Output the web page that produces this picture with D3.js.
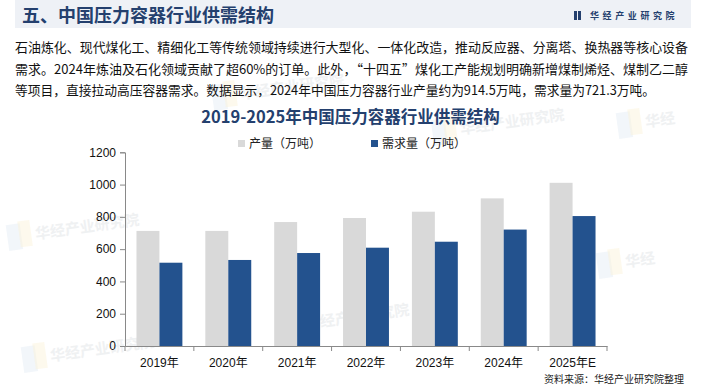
<!DOCTYPE html>
<html>
<head>
<meta charset="utf-8">
<script src="https://cdn.jsdelivr.net/npm/d3@7"></script>
<style>
  body { margin: 0; background: #fff; }
  svg { display: block; }
</style>
</head>
<body>
<svg id="chart" width="701" height="389"></svg>
<script>
// 数据
var years = ['2019年', '2020年', '2021年', '2022年', '2023年', '2024年', '2025年E']
var output = [713, 713, 768, 793, 832, 914.5, 1011]      // 产量（万吨）
var demand = [516, 533, 576, 609, 646, 721.3, 805]       // 需求量（万吨）
var seriesNames = ['产量（万吨）', '需求量（万吨）']
var seriesColors = ['#d9d9d9', '#23528e']
var yTicks = [0, 200, 400, 600, 800, 1000, 1200]

var headTitle = '五、中国压力容器行业供需结构'
var chartTitle = '2019-2025年中国压力容器行业供需结构'
var paraLines = [
  '石油炼化、现代煤化工、精细化工等传统领域持续进行大型化、一体化改造，推动反应器、分离塔、换热器等核心设备',
  '需求。2024年炼油及石化领域贡献了超60%的订单。此外，“十四五”煤化工产能规划明确新增煤制烯烃、煤制乙二醇',
  '等项目，直接拉动高压容器需求。数据显示，2024年中国压力容器行业产量约为914.5万吨，需求量为721.3万吨。'
]
var source = '资料来源：华经产业研究院整理'

var cjk = '"Noto Sans CJK SC", "Noto Sans", sans-serif'
var arial = '"Liberation Sans", "Noto Sans CJK SC", sans-serif'

var svg = d3.select('#chart')

// 水印
var marks = [[235, 100, '华经产业研究院'], [455, 135, '华经产业研究院'], [640, 128, '华经'],
             [30, 240, '华经产业研究院'], [300, 330, '华经产业研究院'], [45, 362, '华经产业研究院'], [620, 268, '华经']]
marks.forEach(function (m) {
  var w = svg.append('g').attr('transform', 'translate(' + m[0] + ',' + m[1] + ') rotate(-8)')
  w.append('rect').attr('x', -22).attr('y', -18).attr('width', 14).attr('height', 26).attr('fill', '#e3eaf5').attr('opacity', 0.45)
  w.append('rect').attr('x', -10).attr('y', -20).attr('width', 12).attr('height', 26).attr('fill', '#fbf2d8').attr('opacity', 0.45)
  w.append('text').attr('x', 6).attr('y', 0).attr('font-family', cjk).attr('font-size', 15)
    .attr('font-weight', 'bold').attr('fill', '#e6e8eb').attr('opacity', 0.6).text(m[2])
})

// 顶部标题栏
svg.append('rect').attr('x', 15).attr('y', 0).attr('width', 676).attr('height', 28).attr('fill', '#eef1f6')
svg.append('text').attr('x', 22).attr('y', 22).attr('font-family', cjk).attr('font-size', 18)
  .attr('font-weight', 'bold').attr('fill', '#24406e').text(headTitle)
svg.append('rect').attr('x', 574).attr('y', 11).attr('width', 3).attr('height', 9).attr('fill', '#24406e')
svg.append('rect').attr('x', 578).attr('y', 11).attr('width', 3).attr('height', 9).attr('fill', '#24406e')
svg.append('text').attr('x', 590).attr('y', 19).attr('font-family', cjk).attr('font-size', 9)
  .attr('font-weight', 'bold').attr('letter-spacing', 3.6).attr('fill', '#24406e').text('华经产业研究院')

// 正文
var paraWidths = [673, 673, 640]
svg.selectAll('text.para').data(paraLines).enter().append('text')
  .attr('class', 'para')
  .attr('x', 15)
  .attr('y', function (d, i) { return 52 + i * 21.5 })
  .attr('font-family', cjk).attr('font-size', 13).attr('fill', '#111')
  .attr('textLength', function (d, i) { return paraWidths[i] })
  .attr('lengthAdjust', 'spacingAndGlyphs')
  .text(function (d) { return d })

// 图表标题
svg.append('text').attr('x', 350.5).attr('y', 123).attr('text-anchor', 'middle')
  .attr('font-family', cjk).attr('font-size', 16.5).attr('font-weight', 'bold')
  .attr('fill', '#24406e').text(chartTitle)

// 图例
var legendX = [238, 371]
seriesNames.forEach(function (n, i) {
  svg.append('rect').attr('x', legendX[i]).attr('y', 140).attr('width', 7).attr('height', 7).attr('fill', seriesColors[i])
  svg.append('text').attr('x', legendX[i] + 11).attr('y', 148).attr('font-family', cjk)
    .attr('font-size', 12).attr('fill', '#222').text(n)
})

// 比例尺
var x0 = d3.scaleBand().domain(years).range([125, 607]).padding(0)
var x1 = d3.scaleBand().domain([0, 1]).range([0, x0.bandwidth()]).paddingInner(0).paddingOuter(0.5)
var y = d3.scaleLinear().domain([0, 1200]).range([346, 152.3])

var rows = years.map(function (yr, i) { return { year: yr, vals: [output[i], demand[i]] } })

var g = svg.append('g')
g.selectAll('g.grp').data(rows).enter().append('g')
  .attr('class', 'grp')
  .attr('transform', function (d) { return 'translate(' + x0(d.year) + ',0)' })
  .selectAll('rect').data(function (d) { return d.vals }).enter().append('rect')
  .attr('x', function (d, i) { return x1(i) })
  .attr('width', x1.bandwidth())
  .attr('y', function (d) { return y(d) })
  .attr('height', function (d) { return y(0) - y(d) })
  .attr('fill', function (d, i) { return seriesColors[i] })

// Y轴
var yAxis = svg.append('g').attr('transform', 'translate(125,0)')
  .call(d3.axisLeft(y).tickValues(yTicks).tickSize(5).tickPadding(4).tickFormat(d3.format('d')))
yAxis.selectAll('path, line').attr('stroke', '#898989')
yAxis.selectAll('text').attr('font-family', arial).attr('font-size', 12).attr('fill', '#111')

// X轴
var xAxis = svg.append('g').attr('transform', 'translate(0,346)')
  .call(d3.axisBottom(x0).tickSize(0).tickPadding(12))
xAxis.select('path').attr('stroke', '#898989')
xAxis.selectAll('text').attr('font-family', arial).attr('font-size', 12).attr('fill', '#111')
var bounds = years.map(function (d) { return x0(d) }).concat([607])
xAxis.selectAll('line.sep').data(bounds).enter().append('line')
  .attr('class', 'sep')
  .attr('x1', function (d) { return d }).attr('x2', function (d) { return d })
  .attr('y1', 0).attr('y2', 5).attr('stroke', '#898989')

// 来源
svg.append('text').attr('x', 684).attr('y', 383).attr('text-anchor', 'end')
  .attr('font-family', cjk).attr('font-size', 10).attr('fill', '#222').text(source)
</script>
</body>
</html>
